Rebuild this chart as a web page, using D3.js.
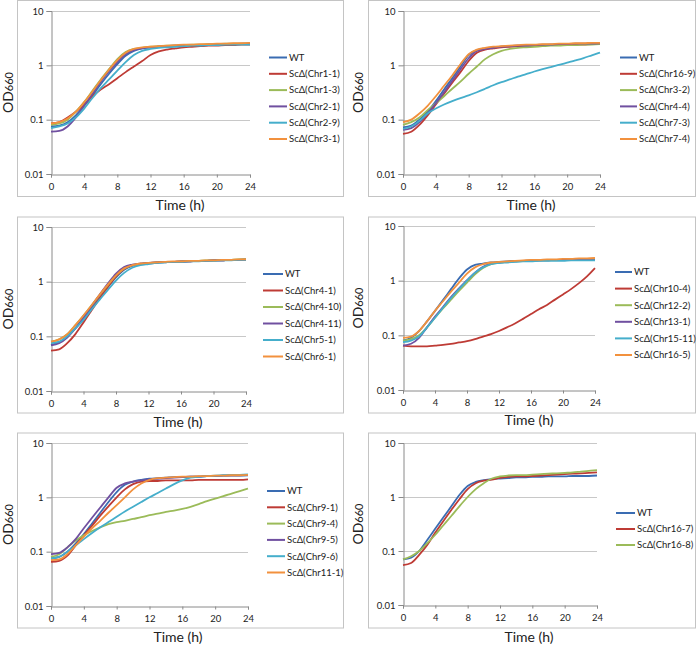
<!DOCTYPE html>
<html>
<head>
<meta charset="utf-8">
<script src="https://cdn.jsdelivr.net/npm/d3@7"></script>
<style>
  body { margin: 0; background: #fff; }
  svg { display: block; }
  text { font-family: Lato, "Open Sans", sans-serif; fill: #222; }
</style>
</head>
<body>
<svg id="chart" width="696" height="645"></svg>
<script>
// ---------- data ----------
const hours = [0,1,2,3,4,5,6,7,8,9,10,11,12,13,14,15,16,17,18,19,20,21,22,23,24];
const xTickValues = [0,4,8,12,16,20,24];
const yTickValues = [0.01,0.1,1,10];
const yTickLabels = ["0.01","0.1","1","10"];
const seriesColors = ["#3A6CB2","#BE3B35","#9BBB59","#7050A0","#45AECB","#F2913D"];

const panel1Names = ["WT","ScΔ(Chr1-1)","ScΔ(Chr1-3)","ScΔ(Chr2-1)","ScΔ(Chr2-9)","ScΔ(Chr3-1)"];
const panel1Values = [
  [0.075,0.078,0.09,0.12,0.18,0.28,0.45,0.7,1.05,1.5,1.85,2.05,2.15,2.2,2.25,2.3,2.3,2.35,2.35,2.4,2.4,2.4,2.45,2.45,2.5],
  [0.085,0.09,0.11,0.14,0.19,0.27,0.36,0.45,0.58,0.75,0.95,1.2,1.55,1.8,1.95,2.05,2.15,2.2,2.25,2.3,2.3,2.35,2.35,2.4,2.4],
  [0.08,0.085,0.1,0.14,0.21,0.34,0.55,0.85,1.3,1.75,2.0,2.1,2.2,2.25,2.3,2.3,2.35,2.4,2.4,2.45,2.45,2.5,2.5,2.5,2.55],
  [0.06,0.062,0.075,0.11,0.18,0.3,0.5,0.78,1.15,1.6,1.9,2.05,2.15,2.2,2.25,2.3,2.3,2.35,2.35,2.4,2.4,2.45,2.45,2.5,2.5],
  [0.07,0.075,0.085,0.11,0.16,0.25,0.38,0.55,0.8,1.15,1.55,1.85,2.0,2.1,2.15,2.2,2.25,2.3,2.3,2.35,2.35,2.4,2.4,2.4,2.4],
  [0.085,0.09,0.105,0.14,0.21,0.33,0.53,0.83,1.25,1.7,2.0,2.15,2.2,2.25,2.3,2.35,2.4,2.4,2.45,2.45,2.5,2.5,2.55,2.55,2.6]
];

const panel2Names = ["WT","ScΔ(Chr16-9)","ScΔ(Chr3-2)","ScΔ(Chr4-4)","ScΔ(Chr7-3)","ScΔ(Chr7-4)"];
const panel2Values = [
  [0.072,0.078,0.1,0.14,0.22,0.36,0.58,0.95,1.55,1.9,2.05,2.15,2.2,2.25,2.3,2.3,2.35,2.35,2.4,2.4,2.4,2.45,2.45,2.45,2.5],
  [0.055,0.06,0.08,0.12,0.19,0.3,0.48,0.75,1.2,1.7,1.95,2.05,2.15,2.2,2.25,2.3,2.3,2.35,2.35,2.4,2.4,2.4,2.4,2.45,2.45],
  [0.08,0.09,0.11,0.15,0.2,0.27,0.37,0.5,0.7,0.95,1.3,1.6,1.85,2.0,2.1,2.15,2.2,2.25,2.3,2.3,2.35,2.35,2.4,2.4,2.45],
  [0.065,0.07,0.09,0.13,0.2,0.32,0.52,0.85,1.35,1.85,2.0,2.1,2.2,2.25,2.3,2.3,2.35,2.4,2.4,2.45,2.45,2.5,2.5,2.5,2.55],
  [0.068,0.075,0.095,0.13,0.16,0.19,0.22,0.25,0.28,0.32,0.37,0.43,0.49,0.55,0.62,0.69,0.77,0.85,0.93,1.02,1.12,1.23,1.36,1.53,1.72],
  [0.09,0.1,0.13,0.18,0.27,0.42,0.65,1.05,1.6,1.95,2.1,2.2,2.25,2.3,2.35,2.4,2.4,2.45,2.45,2.5,2.5,2.55,2.55,2.6,2.6]
];

const panel3Names = ["WT","ScΔ(Chr4-1)","ScΔ(Chr4-10)","ScΔ(Chr4-11)","ScΔ(Chr5-1)","ScΔ(Chr6-1)"];
const panel3Values = [
  [0.07,0.078,0.1,0.14,0.21,0.33,0.52,0.8,1.2,1.65,1.95,2.1,2.15,2.2,2.25,2.3,2.3,2.35,2.4,2.4,2.45,2.45,2.5,2.5,2.55],
  [0.055,0.058,0.075,0.11,0.18,0.3,0.5,0.8,1.25,1.7,2.0,2.1,2.2,2.25,2.3,2.3,2.35,2.35,2.4,2.4,2.45,2.45,2.5,2.5,2.55],
  [0.08,0.088,0.11,0.16,0.24,0.37,0.57,0.87,1.3,1.75,2.0,2.1,2.2,2.25,2.3,2.3,2.35,2.4,2.4,2.45,2.45,2.5,2.5,2.55,2.55],
  [0.068,0.075,0.095,0.14,0.22,0.36,0.58,0.92,1.4,1.85,2.05,2.15,2.2,2.25,2.3,2.3,2.35,2.35,2.4,2.4,2.45,2.45,2.5,2.5,2.5],
  [0.075,0.08,0.1,0.14,0.2,0.31,0.47,0.71,1.05,1.45,1.8,2.0,2.1,2.2,2.25,2.3,2.3,2.35,2.35,2.4,2.4,2.45,2.45,2.5,2.5],
  [0.08,0.088,0.11,0.16,0.24,0.37,0.58,0.88,1.3,1.75,2.0,2.15,2.2,2.25,2.3,2.35,2.35,2.4,2.4,2.45,2.45,2.5,2.5,2.55,2.55]
];

const panel4Names = ["WT","ScΔ(Chr10-4)","ScΔ(Chr12-2)","ScΔ(Chr13-1)","ScΔ(Chr15-11)","ScΔ(Chr16-5)"];
const panel4Values = [
  [0.08,0.09,0.12,0.18,0.28,0.44,0.7,1.1,1.6,1.95,2.05,2.15,2.2,2.25,2.3,2.3,2.35,2.35,2.4,2.4,2.4,2.45,2.45,2.45,2.5],
  [0.065,0.063,0.063,0.063,0.065,0.067,0.07,0.074,0.078,0.085,0.095,0.105,0.12,0.14,0.165,0.2,0.245,0.3,0.36,0.45,0.56,0.7,0.9,1.2,1.7],
  [0.08,0.085,0.1,0.14,0.21,0.31,0.45,0.65,0.92,1.3,1.7,2.0,2.15,2.2,2.25,2.3,2.3,2.35,2.35,2.4,2.4,2.4,2.4,2.4,2.4],
  [0.065,0.07,0.09,0.14,0.22,0.33,0.5,0.72,1.02,1.4,1.8,2.05,2.15,2.2,2.25,2.3,2.3,2.35,2.35,2.4,2.4,2.45,2.45,2.45,2.5],
  [0.075,0.08,0.095,0.14,0.21,0.32,0.48,0.7,1.0,1.4,1.75,2.0,2.1,2.15,2.2,2.25,2.25,2.3,2.3,2.3,2.3,2.35,2.35,2.35,2.35],
  [0.09,0.095,0.12,0.18,0.28,0.42,0.63,0.92,1.35,1.75,2.0,2.15,2.2,2.25,2.3,2.35,2.4,2.4,2.45,2.45,2.5,2.5,2.55,2.55,2.6]
];

const panel5Names = ["WT","ScΔ(Chr9-1)","ScΔ(Chr9-4)","ScΔ(Chr9-5)","ScΔ(Chr9-6)","ScΔ(Chr11-1)"];
const panel5Values = [
  [0.075,0.08,0.1,0.14,0.21,0.33,0.52,0.82,1.25,1.7,1.95,2.1,2.2,2.25,2.3,2.35,2.35,2.4,2.4,2.45,2.45,2.5,2.5,2.5,2.55],
  [0.065,0.068,0.085,0.13,0.2,0.3,0.46,0.68,1.0,1.4,1.75,1.95,2.0,2.0,2.05,2.05,2.05,2.05,2.1,2.1,2.1,2.1,2.1,2.1,2.15],
  [0.08,0.09,0.12,0.16,0.2,0.24,0.28,0.32,0.35,0.37,0.4,0.43,0.47,0.5,0.54,0.57,0.61,0.67,0.75,0.85,0.95,1.05,1.17,1.3,1.45],
  [0.09,0.095,0.12,0.17,0.27,0.42,0.65,1.0,1.5,1.8,1.95,2.05,2.15,2.2,2.25,2.3,2.35,2.4,2.4,2.45,2.45,2.5,2.55,2.55,2.6],
  [0.075,0.08,0.1,0.13,0.17,0.22,0.28,0.35,0.44,0.55,0.67,0.82,1.0,1.2,1.45,1.75,2.05,2.3,2.4,2.45,2.5,2.55,2.6,2.6,2.65],
  [0.07,0.072,0.09,0.13,0.19,0.27,0.37,0.52,0.72,1.0,1.4,1.8,2.1,2.25,2.3,2.35,2.4,2.4,2.45,2.45,2.5,2.5,2.55,2.55,2.6]
];

const panel6Names = ["WT","ScΔ(Chr16-7)","ScΔ(Chr16-8)"];
const panel6Values = [
  [0.07,0.075,0.1,0.16,0.26,0.42,0.68,1.1,1.6,1.9,2.05,2.15,2.2,2.25,2.3,2.3,2.35,2.35,2.4,2.4,2.4,2.45,2.45,2.45,2.5],
  [0.055,0.06,0.085,0.13,0.22,0.36,0.58,0.92,1.4,1.8,2.0,2.1,2.25,2.35,2.4,2.4,2.45,2.5,2.55,2.6,2.65,2.7,2.75,2.8,2.85],
  [0.07,0.08,0.1,0.14,0.2,0.3,0.45,0.68,1.0,1.4,1.8,2.2,2.4,2.5,2.55,2.55,2.6,2.65,2.7,2.75,2.8,2.85,2.95,3.05,3.15]
];

// ---------- layout ----------
const panels = [
  {names: panel1Names, values: panel1Values, box:[17,0.5,326,196],   plot:[51,250,11,174],  leg:[269,287,289,57.5,16.3], title:[180,210], ylab:[8,92.5]},
  {names: panel2Names, values: panel2Values, box:[368,0.5,327,196],  plot:[403,600,11,174], leg:[620,637,639,57.5,16.3], title:[531,210], ylab:[358,92.5]},
  {names: panel3Names, values: panel3Values, box:[17,217,326,196],   plot:[51,246,227,391], leg:[263,283,285,274,16.5],  title:[178,427], ylab:[8,309]},
  {names: panel4Names, values: panel4Values, box:[368,217,327,196],  plot:[403,595,226,390],leg:[615,632,634,272,16.6],  title:[529,425], ylab:[358,308]},
  {names: panel5Names, values: panel5Values, box:[17,433,326,195],   plot:[51,248,443,606], leg:[267,285,287,491,16.3],  title:[178,642], ylab:[8,524.5]},
  {names: panel6Names, values: panel6Values, box:[368,433,327,195],  plot:[403,597,443,605],leg:[616,635,637,513,16],    title:[529,642], ylab:[358,524]}
];

const svg = d3.select("#chart");

panels.forEach(p => {
  const g = svg.append("g");
  const [bx, by, bw, bh] = p.box;
  g.append("rect").attr("x", bx + 0.5).attr("y", by).attr("width", bw).attr("height", bh)
    .attr("fill", "none").attr("stroke", "#c4c4c4").attr("stroke-width", 1);

  const [x0, x1, y0, y1] = p.plot;
  const x = d3.scaleLinear().domain([0, 24]).range([x0, x1]);
  const y = d3.scaleLog().domain([0.01, 10]).range([y1, y0]);

  // gridlines
  g.selectAll(".grid").data(yTickValues.filter(v => v > 0.01)).join("line")
    .attr("x1", x0).attr("x2", x1)
    .attr("y1", d => Math.round(y(d)) + 0.5).attr("y2", d => Math.round(y(d)) + 0.5)
    .attr("stroke", "#c8c8c8").attr("stroke-width", 1);

  // y axis
  const yAxis = d3.axisLeft(y).tickValues(yTickValues)
    .tickFormat((d, i) => yTickLabels[i]).tickSize(5).tickPadding(3);
  const ya = g.append("g").attr("transform", `translate(${x0 + 0.5},0)`).call(yAxis);
  ya.select(".domain").attr("stroke", "#8a8a8a");
  ya.selectAll(".tick line").attr("stroke", "#8a8a8a");
  ya.selectAll(".tick text").attr("font-size", "9.5px").attr("fill", "#222")
    .attr("font-family", "Lato, 'Open Sans', sans-serif");

  // x axis
  const xAxis = d3.axisBottom(x).tickValues(xTickValues).tickSize(3).tickPadding(6).tickFormat(d3.format("d"));
  const xa = g.append("g").attr("transform", `translate(0,${Math.round(y1) + 0.5})`).call(xAxis);
  xa.select(".domain").attr("stroke", "#8a8a8a");
  xa.selectAll(".tick line").attr("stroke", "#8a8a8a");
  xa.selectAll(".tick text").attr("font-size", "9.5px").attr("fill", "#222")
    .attr("font-family", "Lato, 'Open Sans', sans-serif");

  // lines
  const line = d3.line().x((d, i) => x(hours[i])).y(d => y(d)).curve(d3.curveMonotoneX);
  p.values.forEach((vals, si) => {
    g.append("path").datum(vals).attr("d", line)
      .attr("fill", "none").attr("stroke", seriesColors[si]).attr("stroke-width", 1.8)
      .attr("stroke-linejoin", "round");
  });

  // legend
  const [lx0, lx1, tx, ly, ls] = p.leg;
  p.names.forEach((name, i) => {
    const yy = ly + i * ls;
    g.append("line").attr("x1", lx0).attr("x2", lx1).attr("y1", yy).attr("y2", yy)
      .attr("stroke", seriesColors[i]).attr("stroke-width", 2);
    g.append("text").attr("x", tx).attr("y", yy).attr("dy", "0.35em")
      .attr("font-size", "9.5px").text(name);
  });

  // axis titles
  g.append("text").attr("x", p.title[0]).attr("y", p.title[1])
    .attr("text-anchor", "middle").attr("font-size", "14px").text("Time (h)");
  const yl = g.append("text").attr("transform", `translate(${p.ylab[0] + 5},${p.ylab[1]}) rotate(-90)`)
    .attr("text-anchor", "middle").attr("font-size", "14px");
  yl.append("tspan").text("OD");
  yl.append("tspan").attr("font-size", "11px").text("660");
});
</script>
</body>
</html>
